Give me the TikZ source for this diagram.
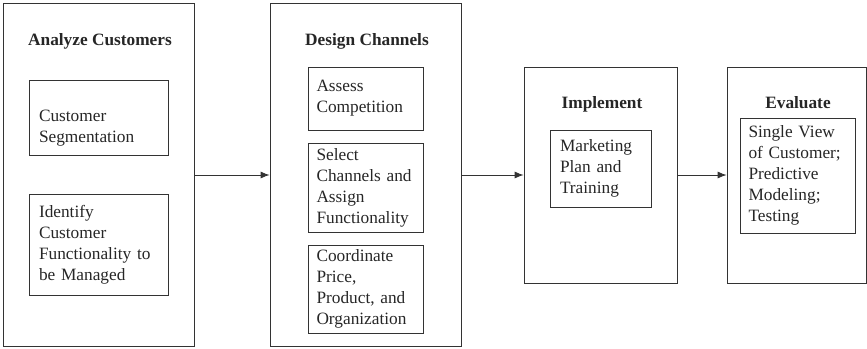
\documentclass[tikz,border=0pt]{standalone}
\usepackage{fontspec}
\setmainfont{Liberation Serif}
\usetikzlibrary{positioning,arrows.meta}

\begin{document}
\begin{tikzpicture}[
    x=1pt, y=-1pt,
    stage/.style={draw=black!80, line width=0.8pt, inner sep=0pt},
    title/.style={font=\fontsize{17.3}{21}\selectfont\bfseries, text=black!85, anchor=base},
    task/.style={draw=black!80, line width=0.8pt, align=left, inner xsep=10pt, inner ysep=0pt,
        font=\fontsize{17.3}{21}\selectfont, text=black!85},
    narrow/.style={task, text width=98pt, inner xsep=8.5pt},
    arr/.style={-{Latex[length=9pt,width=7pt]}, line width=0.8pt, draw=black!80}
]
    \useasboundingbox (0,0) rectangle (867,348);

    % --- Analyze Customers ---
    \node[stage, minimum width=191pt, minimum height=343pt] (analyze) at (98.5,175) {};
    \node[title] (analyzeT) at (100,45) {Analyze Customers};
    \node[task, text width=119pt, minimum height=75pt, text height=32pt] (segment) at (98.5,117.5) {Customer\\Segmentation};
    \node[task, text width=119pt, minimum height=101pt] (identify) at (98.5,244.5) {Identify\\Customer\\Functionality to\\be Managed};

    % --- Design Channels ---
    \node[stage, minimum width=191pt, minimum height=343pt] (design) at (365.5,175) {};
    \node[title] (designT) at (367,45) {Design Channels};
    \node[narrow, minimum height=63pt] (assess) at (365.5,98.5) {Assess\\Competition};
    \node[narrow, minimum height=89pt] (select) at (365.5,187.5) {Select\\Channels and\\Assign\\Functionality};
    \node[narrow, minimum height=88pt] (coord) at (365.5,289) {Coordinate\\Price,\\Product, and\\Organization};

    % --- Implement ---
    \node[stage, minimum width=153pt, minimum height=216pt] (implement) at (600.5,175) {};
    \node[title] (implementT) at (602,108) {Implement};
    \node[task, text width=81pt, minimum height=77pt] (plan) at (600.5,168.5) {Marketing\\Plan and\\Training};

    % --- Evaluate ---
    \node[stage, minimum width=139pt, minimum height=216pt] (evaluate) at (796.5,175) {};
    \node[title] (evaluateT) at (798,108) {Evaluate};
    \node[narrow, minimum height=115pt] (view) at (797.5,175.5) {Single View\\of Customer;\\Predictive\\Modeling;\\Testing};

    % --- flow ---
    \draw[arr] (analyze) -- (design);
    \draw[arr] (design) -- (implement);
    \draw[arr] (implement) -- (evaluate);
\end{tikzpicture}
\end{document}
